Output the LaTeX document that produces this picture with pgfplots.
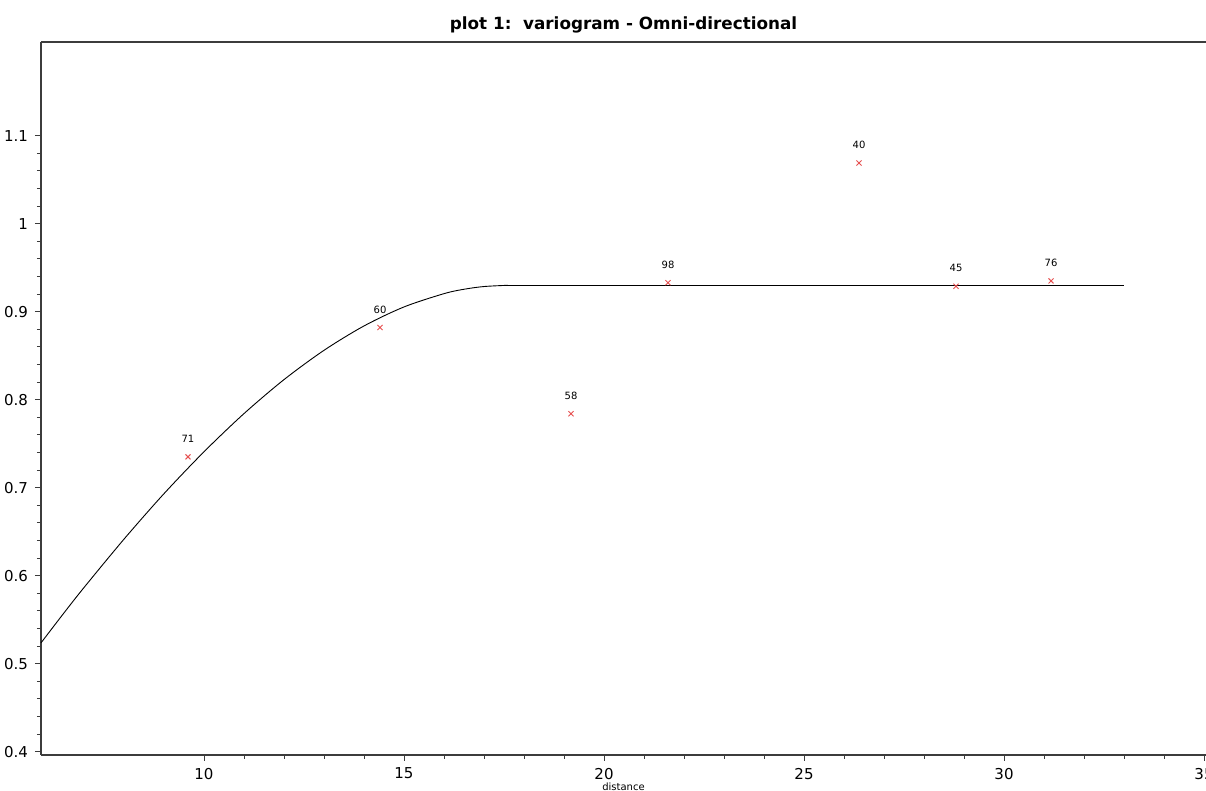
\documentclass[border=0pt]{standalone}
\usepackage{pgfplots}
\pgfplotsset{compat=1.18}
\usepackage{fontspec}
\setmainfont{DejaVu Sans}
\usetikzlibrary{calc}
\definecolor{ptred}{RGB}{230,80,80}
\definecolor{axgray}{RGB}{60,60,60}

\begin{document}
\begin{tikzpicture}
\begin{axis}[
    name=ax,
    scale only axis,
    width=582.5pt,
    height=356.5pt,
    xmin=5.925, xmax=35.05,
    ymin=0.3962, ymax=1.2065,
    axis x line*=bottom,
    axis y line*=left,
    axis line style={axgray, line width=0.8pt, -},
    xtick={10,15,20,25,30,35},
    ytick={0.4,0.5,0.6,0.7,0.8,0.9,1,1.1},
    minor x tick num=4,
    minor y tick num=4,
    tick align=outside,
    major tick length=3pt,
    minor tick length=2pt,
    tick style={axgray, line width=0.5pt},
    tick label style={font=\fontsize{7.5}{8}\selectfont},
    /pgf/number format/assume math mode=true,
    xlabel={distance},
    xlabel style={font=\fontsize{5}{6}\selectfont, at={(axis description cs:0.5,0)}, anchor=center, yshift=-16pt},
    title={\textbf{plot 1:\ \ variogram - Omni-directional}},
    title style={font=\fontsize{8.4}{10}\selectfont, at={(axis description cs:0.5,1)}, anchor=center, yshift=2.5pt},
    clip=false,
]
% fitted spherical model, rising part
\addplot[black, line width=0.45pt, smooth] coordinates {
    (5.925,0.5236) (6.5,0.5577) (7,0.5865) (8,0.6415) (9,0.6932)
    (10,0.7408) (11,0.7842) (12,0.8228) (13,0.8561) (14,0.8838)
    (15,0.9054) (16,0.9205) (16.5,0.9255) (17,0.9286) (17.6,0.9300)
};
% sill
\addplot[black, line width=0.45pt] coordinates {(17.6,0.9300) (33.0,0.9300)};
% experimental variogram
\addplot[
    only marks,
    mark=x,
    mark size=1.8pt,
    ptred,
    mark options={line width=0.45pt},
    nodes near coords,
    point meta=explicit symbolic,
    nodes near coords style={black, font=\fontsize{5}{6}\selectfont, anchor=center, yshift=9pt},
] coordinates {
    (9.6,0.735) [71]
    (14.4,0.882) [60]
    (19.175,0.784) [58]
    (21.6,0.933) [98]
    (26.375,1.069) [40]
    (28.8,0.929) [45]
    (31.175,0.935) [76]
};
\draw[axgray, line width=0.8pt] (rel axis cs:0,1) -- (rel axis cs:1,1);
\end{axis}
\pgfresetboundingbox
\path ($(ax.south west)+(-20.5pt,-18pt)$) rectangle ($(ax.north east)+(0,21pt)$);
\end{tikzpicture}
\end{document}
